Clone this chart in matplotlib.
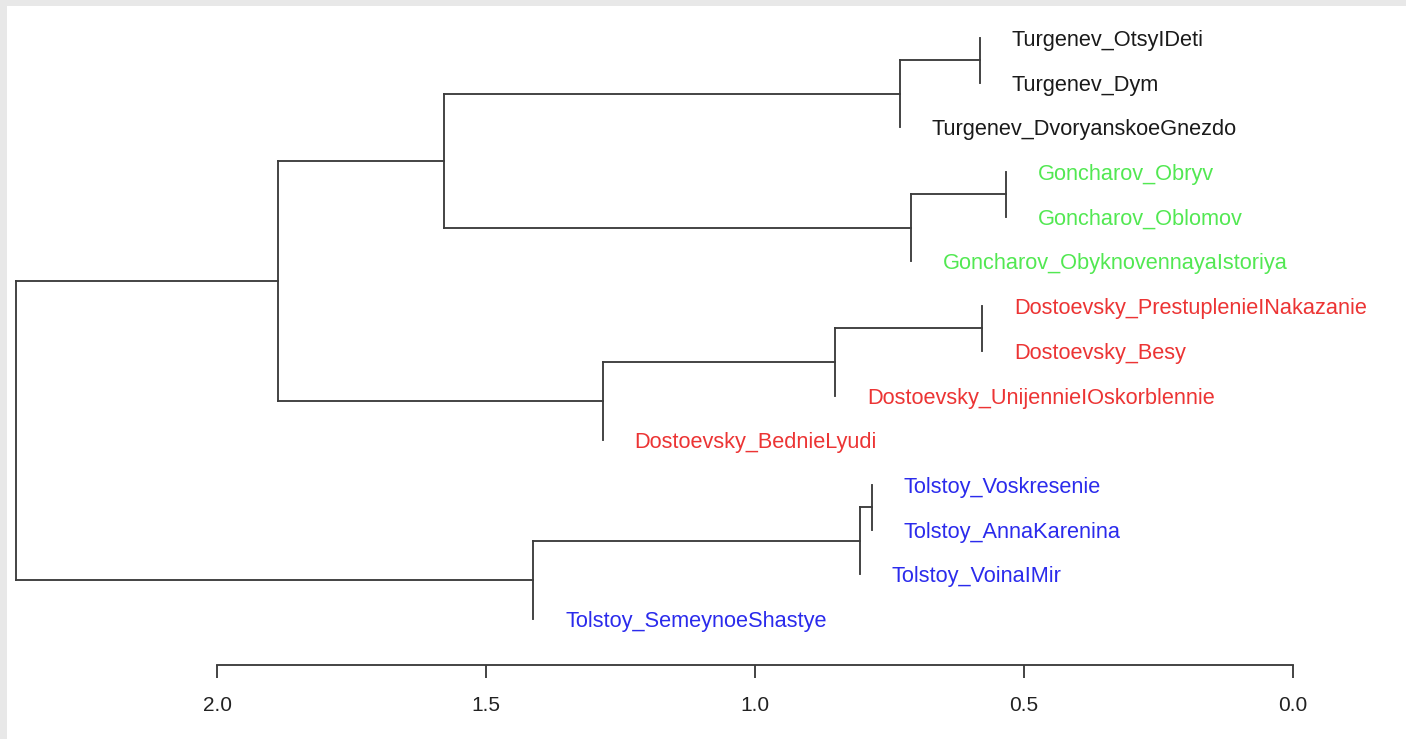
import matplotlib
matplotlib.use("Agg")
import matplotlib.pyplot as plt
from matplotlib.patches import Rectangle

# ---- data ----
labels = [
    "Turgenev_OtsyIDeti", "Turgenev_Dym", "Turgenev_DvoryanskoeGnezdo",
    "Goncharov_Obryv", "Goncharov_Oblomov", "Goncharov_ObyknovennayaIstoriya",
    "Dostoevsky_PrestuplenieINakazanie", "Dostoevsky_Besy",
    "Dostoevsky_UnijennieIOskorblennie", "Dostoevsky_BednieLyudi",
    "Tolstoy_Voskresenie", "Tolstoy_AnnaKarenina", "Tolstoy_VoinaIMir",
    "Tolstoy_SemeynoeShastye",
]
groups = ["Turgenev"] * 3 + ["Goncharov"] * 3 + ["Dostoevsky"] * 4 + ["Tolstoy"] * 4
group_colors = {"Turgenev": "#1a1a1a", "Goncharov": "#52e852",
                "Dostoevsky": "#ec3434", "Tolstoy": "#2b2bec"}

# merge table (hclust style: negative = leaf index, 1-based; positive = earlier merge)
merge_a = [-1, 1, -4, 3, 2, -7, 6, 7, 5, -11, 10, 11, 9]
merge_b = [-2, -3, -5, -6, 4, -8, -9, -10, 8, -12, -13, -14, 12]
heights = [0.582, 0.7305, 0.533, 0.710, 1.578, 0.5775, 0.851, 1.283,
           1.8875, 0.783, 0.805, 1.4126, 2.3727]

axis_ticks = [2.0, 1.5, 1.0, 0.5, 0.0]
axis_ticklabels = ["2.0", "1.5", "1.0", "0.5", "0.0"]

# ---- figure ----
W, H, DPI = 1406, 739, 100
fig = plt.figure(figsize=(W / DPI, H / DPI), dpi=DPI)
fig.patch.set_facecolor("white")
# light gray frame on the top and left
fig.patches.append(Rectangle((0, 0), 7 / W, 1, transform=fig.transFigure,
                             facecolor="#e8e8e8", edgecolor="none", zorder=0))
fig.patches.append(Rectangle((0, 1 - 6 / H), 1, 6 / H, transform=fig.transFigure,
                             facecolor="#e8e8e8", edgecolor="none", zorder=0))

ax = fig.add_axes([7 / W, 0, 1 - 7 / W, 1 - 6 / H])
ax.patch.set_alpha(0)
px_per_unit = 538.0
x0_px, x2_px = 1293.0, 217.0   # pixel of 0.0 and 2.0
left_px, right_px = 7.0, float(W)
ax.set_xlim(2.0 + (x2_px - left_px) / px_per_unit, 0.0 - (right_px - x0_px) / px_per_unit)
y_step = 44.69
top_px, bot_px = 6.0, float(H)
ax.set_ylim(1 + (bot_px - 38.0) / y_step, 1 - (38.0 - top_px) / y_step)

line_kw = dict(color="#3c3c3c", lw=1.35, solid_capstyle="projecting", zorder=2)

# ---- layout of the tree ----
node_pos = {}  # merge index (1-based) -> (x, y)
leaf_x = {}


def child_pos(c, parent_h):
    if c < 0:
        i = -c
        leaf_x[i] = parent_h
        return parent_h, float(i)
    return node_pos[c]


for k in range(len(heights)):
    h = heights[k]
    xa, ya = child_pos(merge_a[k], h)
    xb, yb = child_pos(merge_b[k], h)
    ax.plot([h, h], [ya, yb], **line_kw)
    for (xc, yc) in ((xa, ya), (xb, yb)):
        if xc != h:
            ax.plot([h, xc], [yc, yc], **line_kw)
    node_pos[k + 1] = (h, (ya + yb) / 2.0)

label_offset = 32.0 / px_per_unit
for i, (lab, g) in enumerate(zip(labels, groups), start=1):
    ax.text(leaf_x[i] - label_offset, i, lab, color=group_colors[g],
            fontsize=15.7, family="Liberation Sans", ha="left",
            va="center_baseline", zorder=3)

# ---- bottom axis ----
for s in ("top", "left", "right"):
    ax.spines[s].set_visible(False)
ax.spines["bottom"].set_position(("data", 1 + (665.0 - 38.0) / y_step))
ax.spines["bottom"].set_bounds(0.0, 2.0)
ax.spines["bottom"].set_color("#3c3c3c")
ax.spines["bottom"].set_linewidth(1.35)
ax.set_xticks(axis_ticks)
ax.set_xticklabels(axis_ticklabels, family="Liberation Sans", fontsize=15, color="#222222")
ax.tick_params(axis="x", direction="out", length=9.5, width=1.35, color="#3c3c3c", pad=13)
ax.set_yticks([])

fig.savefig("out.png", dpi=DPI, facecolor="white")
